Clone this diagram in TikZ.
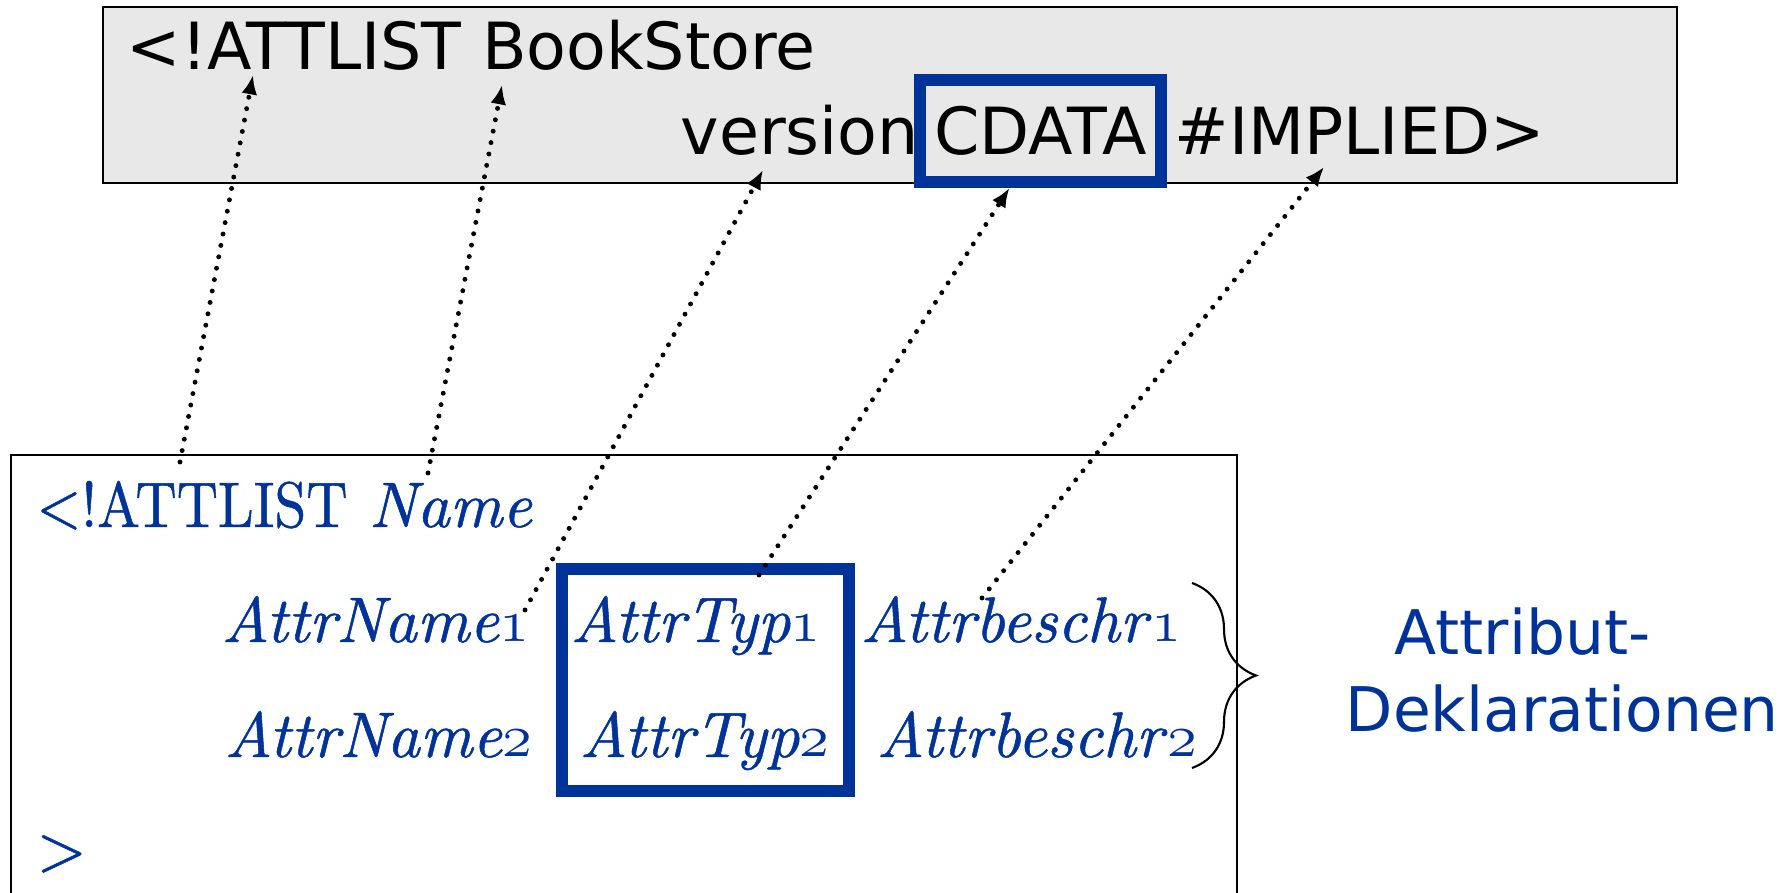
\documentclass[tikz,border=0pt]{standalone}
\usepackage{fontspec}
\usepackage{tikz}
\usetikzlibrary{arrows.meta}
\usetikzlibrary{decorations.pathreplacing}
\newfontfamily\verdfont{DejaVu Sans}
\newfontfamily\dtdfont{lmroman10-regular.otf}[ItalicFont=lmroman10-italic.otf, FakeBold=0.8]
\definecolor{dtdblue}{HTML}{003399}
\definecolor{boxgray}{HTML}{E8E8E8}
% old style digits from the math italic font
\newcommand{\osn}[1]{{\usefont{OML}{lmm}{b}{it}#1}}

\tikzset{
  topfont/.style={font=\verdfont\fontsize{18.5}{22}\selectfont},
  toptext/.style={topfont, inner sep=0pt, anchor=base west},
  lowtext/.style={font=\dtdfont\fontsize{18.3}{22}\selectfont, text=dtdblue, inner sep=0pt, anchor=base west},
  bluebox/.style={draw=dtdblue, line width=3.4pt, inner sep=0pt},
  dotlink/.style={line width=1.4pt, line cap=round, dash pattern=on 0pt off 3.3pt,
    -{Latex[length=5.5pt,width=4.5pt]}},
}

\begin{document}
\begin{tikzpicture}
        \clip (0,0) rectangle (17.91,8.93);
        % upper box
        \draw[fill=boxgray, line width=0.8pt] (1.03,7.10) rectangle (16.77,8.86);
        \node[toptext] (top1) at (1.26,8.23) {<!ATTLIST BookStore};
        \node[toptext] (ver) at (6.80,7.38) {version};
        \node[bluebox, topfont, minimum width=2.41cm, minimum height=1.02cm] (cdata) at (10.405,7.62) {CDATA};
        \node[toptext] (impl) at (11.74,7.38) {\#IMPLIED>};

        % lower box
        \draw[line width=0.8pt] (0.11,-0.3) rectangle (12.37,4.38);
        \node[lowtext] (attl) at (0.36,3.66) {\scalebox{0.89}[1]{<!ATTLIST} \textit{Name}};
        \node[bluebox, minimum width=2.87cm, minimum height=2.22cm] (typbox) at (7.055,2.13) {};
        % first line
        \node[lowtext] (name1) at (2.21,2.51) {\textit{AttrName}\osn{1}};
        \node[lowtext] (typ1) at (5.70,2.51) {\textit{AttrTyp}\osn{1}};
        \node[lowtext] (beschr1) at (8.60,2.51) {\textit{Attrbeschr}\osn{1}};
        % second line
        \node[lowtext] (name2) at (2.24,1.36) {\textit{AttrName}\osn{2}};
        \node[lowtext] (typ2) at (5.79,1.36) {\textit{AttrTyp}\osn{2}};
        \node[lowtext] (beschr2) at (8.76,1.36) {\textit{Attrbeschr}\osn{2}};
        \node[lowtext] (close) at (0.36,0.23) {>};

        % brace and label
        \draw[semithick, decorate, decoration={brace, amplitude=0.64cm}] (11.92,3.10) -- (11.92,1.25);
        \node[font=\verdfont\fontsize{17.5}{21.8}\selectfont, text=dtdblue, inner sep=0pt,
              align=left, anchor=north west] (decl) at (13.45,2.86)
              {\hspace*{0.49cm}Attribut-\\Deklarationen};

        % dotted links
        \coordinate (fromAtt) at (1.80,4.31);
        \coordinate (fromName) at (4.28,4.20);
        \coordinate (fromAttrName) at (5.25,2.83);
        \coordinate (fromTyp) at (7.59,3.18);
        \coordinate (fromBeschr) at (9.82,2.95);
        \draw[dotlink] (fromAtt) -- ([xshift=1.27cm, yshift=-0.05cm]top1.base west);
        \draw[dotlink] (fromName) -- ([xshift=3.76cm, yshift=-0.15cm]top1.base west);
        \draw[dotlink] (fromAttrName) -- ([xshift=0.83cm, yshift=-0.15cm]ver.base west);
        \draw[dotlink] (fromTyp) -- ([xshift=-0.31cm]cdata.south);
        \draw[dotlink] (fromBeschr) -- ([xshift=1.50cm, yshift=-0.12cm]impl.base west);
\end{tikzpicture}
\end{document}
